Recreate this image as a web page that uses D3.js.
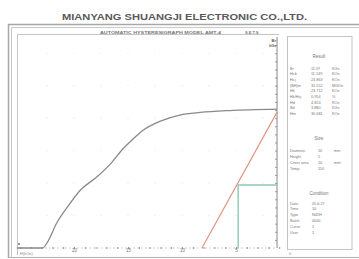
<!DOCTYPE html>
<html>
<head>
<meta charset="utf-8">
<script src="https://cdn.jsdelivr.net/npm/d3@7"></script>
<style>
  body { margin: 0; background: #fff; }
  svg { display: block; font-family: "Liberation Sans", Arial, sans-serif; }
</style>
</head>
<body>
<svg id="chart"></svg>
<script>
// demag curve (H in kOe, B in kGs)
const curveH = [25.3, 25, 22.9, 22.5, 21.6, 20.6, 19.4, 17.9, 16.6, 15.56, 14.63, 13.7, 12.0, 10.2, 8.3, 5.6, 1.2];
const curveB = [0, 0, 0, 0.31, 1.54, 2.53, 3.57, 4.37, 5.2, 6.04, 6.65, 7.21, 7.82, 8.19, 8.35, 8.47, 8.56];

// load line and working point
const loadH = [8.15, 1.2];
const loadB = [0, 8.37];
const workH = 4.8;
const workB = 3.88;

const hTicks = [20, 15, 10, 5, 0];
const bAxisH = 1.2;

const resultLabels = ["Br", "Hcb", "Hcj", "(BH)m", "Hk", "Hk/Hcj", "Hd", "Bd", "Hm"];
const resultValues = ["11.97", "11.149", "24.863", "31.552", "23.712", "0.954", "4.824", "3.880", "30.081"];
const resultUnits = ["KGs", "KOe", "KOe", "MGOe", "KOe", "%", "KOe", "KGs", "KOe"];

const sizeLabels = ["Diameter", "Height", "Cross area", "Temp."];
const sizeValues = ["10", "5", "20", "110"];
const sizeUnits = ["mm", "", "mm\u00b2", ""];

const condLabels = ["Date", "Time", "Type", "Batch", "Curve", "User"];
const condValues = ["05.6.27", "10", "N45H", "0000", "1", "1"];

const width = 359, height = 259;

const svg = d3.select("#chart")
  .attr("width", width)
  .attr("height", height);

svg.append("rect").attr("width", width).attr("height", height).attr("fill", "#fff");

// company title
svg.append("text")
  .attr("x", 62).attr("y", 19.5)
  .attr("textLength", 245).attr("lengthAdjust", "spacingAndGlyphs")
  .attr("font-size", 8.5).attr("font-weight", "bold")
  .attr("fill", "#5a5a5a")
  .text("MIANYANG SHUANGJI ELECTRONIC CO.,LTD.");

// outer frame (double line)
svg.append("path")
  .attr("d", "M8.5,258 V24.5 H359")
  .attr("fill", "none").attr("stroke", "#a8a8a8").attr("stroke-width", 1.5);
svg.append("path")
  .attr("d", "M11.5,258 V27.5 H359")
  .attr("fill", "none").attr("stroke", "#c8c8c8").attr("stroke-width", 1);
svg.append("line")
  .attr("x1", 8).attr("x2", 359).attr("y1", 257.5).attr("y2", 257.5)
  .attr("stroke", "#b0b0b0").attr("stroke-width", 1.2);

// inner plot frame
svg.append("path")
  .attr("d", "M17.5,255 V34.5 H279")
  .attr("fill", "none").attr("stroke", "#c4c4c4").attr("stroke-width", 1);

svg.append("text")
  .attr("x", 100).attr("y", 33.5)
  .attr("textLength", 121).attr("lengthAdjust", "spacingAndGlyphs")
  .attr("font-size", 4).attr("font-weight", "bold").attr("fill", "#777")
  .text("AUTOMATIC HYSTERESIGRAPH MODEL AMT-4");
svg.append("text")
  .attr("x", 245).attr("y", 33.5)
  .attr("font-size", 4).attr("font-weight", "bold").attr("fill", "#777")
  .text("S.E.T.S.");

// scales
const x = d3.scaleLinear().domain([25, 0]).range([20, 290]);
const y = d3.scaleLinear().domain([0, 13]).range([248, 37]);

// faint grid dots
const gridH = d3.range(2.5, 25, 2.5);
const gridB = d3.range(2, 13, 2);
gridH.forEach(h => gridB.forEach(b => {
  svg.append("circle")
    .attr("cx", x(h)).attr("cy", y(b)).attr("r", 0.6)
    .attr("fill", "#e2e2e2");
}));

// bottom axis
const bottomAxis = svg.append("g")
  .attr("transform", `translate(0,${y(0)})`)
  .call(d3.axisBottom(x)
    .tickValues(d3.range(1, 26, 1))
    .tickSize(2)
    .tickFormat(d => hTicks.includes(d) ? d : ""));
bottomAxis.select(".domain").attr("stroke", "#cfcfcf").attr("stroke-dasharray", "2,2");
bottomAxis.selectAll(".tick line").attr("stroke", "#999").attr("y1", -1).attr("y2", 1);
bottomAxis.selectAll(".tick text")
  .attr("font-size", 4.5).attr("fill", "#777").attr("dy", "0.2em").attr("y", 3);
bottomAxis.select(".domain").attr("d", `M17,0H${x(bAxisH)}`);

svg.append("text")
  .attr("x", 20).attr("y", 254.5)
  .attr("font-size", 4).attr("fill", "#888")
  .text("H(kOe)");
svg.append("circle")
  .attr("cx", 19).attr("cy", 244).attr("r", 0.9).attr("fill", "#666");

// right B axis
const rightAxis = svg.append("g")
  .attr("transform", `translate(${x(bAxisH)},0)`)
  .call(d3.axisLeft(y)
    .tickValues(d3.range(0.5, 13, 0.5))
    .tickSize(2)
    .tickFormat(""));
rightAxis.select(".domain").attr("stroke", "#888").attr("stroke-width", 1).attr("d", `M0,${y(0)}V${y(13)}`);
rightAxis.selectAll(".tick line").attr("stroke", "#999");

svg.append("text")
  .attr("x", x(bAxisH) - 1).attr("y", 41.5)
  .attr("text-anchor", "end").attr("font-size", 4).attr("font-weight", "bold").attr("fill", "#555")
  .text("Br");
svg.append("text")
  .attr("x", x(bAxisH) - 1).attr("y", 46.5)
  .attr("text-anchor", "end").attr("font-size", 3.6).attr("font-weight", "bold").attr("fill", "#555")
  .text("kGs");

// curve
const curveData = curveH.map((h, i) => ({ h, b: curveB[i] }));
svg.append("path")
  .datum(curveData)
  .attr("d", d3.line().x(d => x(d.h)).y(d => y(d.b)).curve(d3.curveMonotoneX))
  .attr("fill", "none").attr("stroke", "#8a8a8a").attr("stroke-width", 1.3);

// load line
const loadData = loadH.map((h, i) => ({ h, b: loadB[i] }));
svg.append("path")
  .datum(loadData)
  .attr("d", d3.line().x(d => x(d.h)).y(d => y(d.b)))
  .attr("fill", "none").attr("stroke", "#e39484").attr("stroke-width", 1.2);

// working point guides
svg.append("path")
  .attr("d", `M${x(workH)},${y(0)}V${y(workB)}H${x(bAxisH)}`)
  .attr("fill", "none").attr("stroke", "#8ec9b5").attr("stroke-width", 1.4);

// right panel
svg.append("rect")
  .attr("x", 287.5).attr("y", 36.5).attr("width", 64.5).attr("height", 213)
  .attr("fill", "#fff").attr("stroke", "#c4c4c4").attr("stroke-width", 1);

const txtColor = "#777";
function heading(t, yy) {
  svg.append("text").attr("x", 319).attr("y", yy)
    .attr("text-anchor", "middle").attr("font-size", 4.5).attr("fill", txtColor).text(t);
}
function rows(labels, values, units, y0, dy, vx, ux) {
  labels.forEach((l, i) => {
    const yy = y0 + i * dy;
    svg.append("text").attr("x", 290).attr("y", yy).attr("font-size", 3.8).attr("fill", txtColor).text(l);
    svg.append("text").attr("x", vx).attr("y", yy).attr("font-size", 3.8).attr("fill", txtColor).text(values[i]);
    if (units) svg.append("text").attr("x", ux).attr("y", yy).attr("font-size", 3.8).attr("fill", txtColor).text(units[i]);
  });
}
heading("Result", 57.5);
rows(resultLabels, resultValues, resultUnits, 69.5, 5.7, 311, 332);
heading("Size", 139.5);
rows(sizeLabels, sizeValues, sizeUnits, 151.5, 6, 318, 334);
heading("Condition", 194.5);
rows(condLabels, condValues, null, 204.5, 5.8, 312, 0);

svg.append("text").attr("x", 289).attr("y", 255).attr("font-size", 4).attr("fill", "#888").text("0");
</script>
</body>
</html>
